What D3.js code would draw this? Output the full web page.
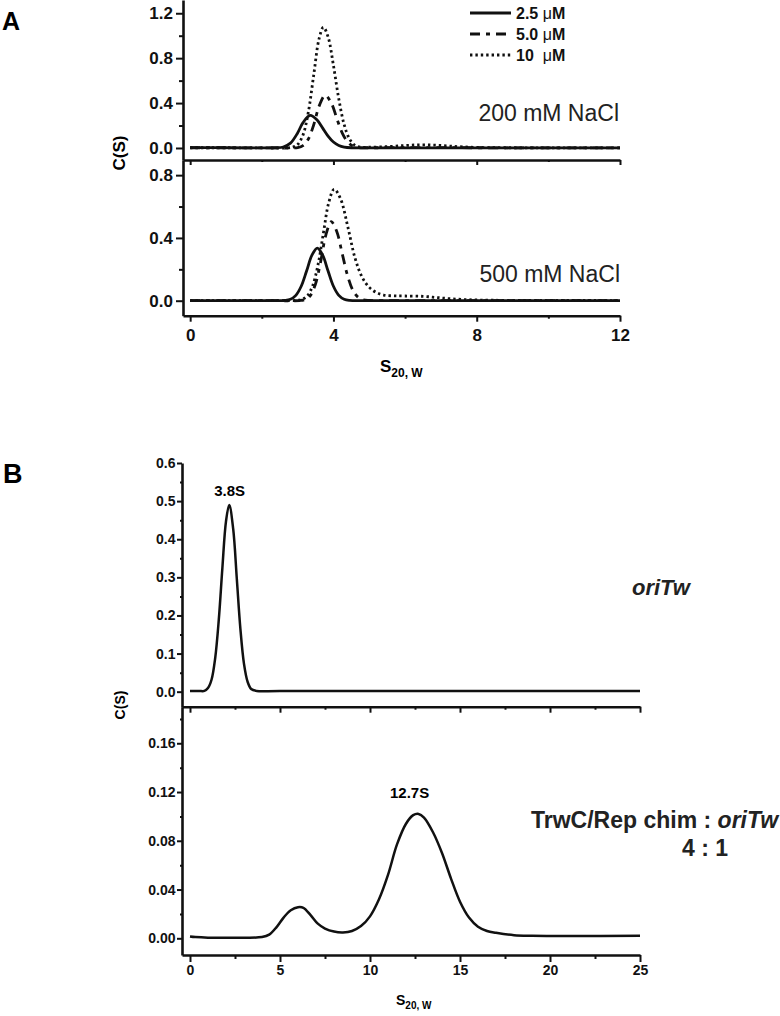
<!DOCTYPE html>
<html>
<head>
<meta charset="UTF-8">
<title>c(s) distributions</title>
<script src="https://cdn.jsdelivr.net/npm/d3@7"></script>
<style>
  body { margin: 0; background: #ffffff; }
  svg { display: block; font-family: "Liberation Sans", Arial, sans-serif; }
  .ax .domain { stroke: #111; stroke-width: 2.6px; }
  .ax line { stroke: #111; stroke-width: 2px; }
  .ax text { fill: #111; font-weight: bold; }
  .axA text { font-size: 17px; }
  .axB text { font-size: 14px; font-family: "Liberation Sans Narrow", "Liberation Sans", Arial, sans-serif; }
  .curve { fill: none; stroke: #111; stroke-linejoin: round; }
</style>
</head>
<body>
<svg id="chart" width="780" height="1016"></svg>
<script>
// ---- panel A : 200 mM NaCl, [s, c(s)]
var a200_25 = [[0,0.004],[0.6,0.003],[1.2,0.002],[2,0.001],[2.4,0.002],[2.6,0.009],[2.8,0.043],[3.0,0.134],[3.15,0.226],[3.35,0.29],[3.55,0.247],[3.7,0.177],[3.85,0.106],[4.0,0.053],[4.15,0.022],[4.3,0.008],[4.5,0.002],[5,0.001],[12,0.001]];
var a200_50 = [[0,0.002],[1,0.002],[2,0.001],[2.9,0.001],[3.0,0.004],[3.15,0.022],[3.3,0.08],[3.45,0.207],[3.6,0.373],[3.77,0.47],[3.95,0.393],[4.1,0.257],[4.25,0.131],[4.4,0.052],[4.55,0.016],[4.7,0.004],[5,0.002],[6,0.004],[7,0.003],[8,0.002],[12,0.001]];
var a200_10 = [[0,0.002],[1,0.002],[2,0.001],[2.85,0.006],[3.0,0.031],[3.15,0.116],[3.3,0.321],[3.45,0.652],[3.6,0.974],[3.72,1.075],[3.85,0.99],[4.0,0.735],[4.15,0.436],[4.3,0.208],[4.45,0.08],[4.6,0.024],[4.75,0.008],[5.0,0.007],[5.5,0.012],[6.0,0.022],[6.4,0.028],[6.8,0.026],[7.2,0.018],[7.6,0.01],[8.2,0.004],[9,0.002],[12,0.001]];
// ---- panel A : 500 mM NaCl
var a500_25 = [[0,0.001],[1,0.001],[2,0.001],[2.65,0.002],[2.8,0.009],[2.95,0.034],[3.1,0.092],[3.25,0.189],[3.4,0.29],[3.55,0.335],[3.7,0.29],[3.85,0.189],[4.0,0.092],[4.15,0.034],[4.3,0.009],[4.45,0.002],[5,0.001],[12,0.001]];
var a500_50 = [[0,0.001],[1,0.001],[2,0.001],[3.05,0.001],[3.19,0.006],[3.34,0.028],[3.49,0.1],[3.64,0.245],[3.79,0.42],[3.94,0.503],[4.09,0.443],[4.24,0.305],[4.39,0.163],[4.54,0.068],[4.69,0.022],[4.84,0.006],[5.0,0.002],[6,0.001],[12,0.001]];
var a500_10 = [[0,0.001],[1,0.001],[2,0.001],[2.97,0.002],[3.12,0.008],[3.27,0.031],[3.42,0.096],[3.57,0.23],[3.72,0.431],[3.87,0.626],[4.02,0.71],[4.2,0.648],[4.4,0.472],[4.6,0.274],[4.8,0.15],[5.0,0.085],[5.2,0.052],[5.4,0.036],[5.7,0.031],[6.0,0.03],[6.5,0.028],[6.9,0.02],[7.3,0.012],[7.8,0.006],[8.5,0.003],[9.5,0.002],[12,0.001]];
// ---- panel B : oriTw alone, and TrwC/Rep chim : oriTw 4:1
var bOri = [[0,0.002],[0.5,0.002],[0.8,0.002],[1.0,0.0095],[1.2,0.032],[1.4,0.088],[1.6,0.189],[1.8,0.325],[2.0,0.447],[2.18,0.49],[2.4,0.427],[2.6,0.297],[2.8,0.165],[3.0,0.073],[3.2,0.026],[3.4,0.007],[3.7,0.002],[5,0.002],[25,0.002]];
var bMix = [[0,0.0015],[0.3,0.001],[1,0.0005],[2,0.0005],[3,0.0005],[4,0.001],[4.4,0.003],[4.8,0.009],[5.2,0.017],[5.6,0.023],[6.0,0.0255],[6.3,0.025],[6.7,0.019],[7.1,0.012],[7.5,0.008],[8.0,0.0055],[8.5,0.0048],[9.0,0.006],[9.5,0.01],[10.0,0.018],[10.5,0.032],[11.0,0.052],[11.5,0.077],[12.0,0.094],[12.4,0.101],[12.7,0.102],[13.0,0.099],[13.5,0.087],[14.0,0.07],[14.5,0.049],[15.0,0.03],[15.5,0.017],[16.0,0.0095],[16.5,0.006],[17.0,0.0045],[18.0,0.0025],[19,0.002],[25,0.002]];

var legendLabels = ["2.5 ", "5.0 ", "10  "];
var dashes = [null, "10,6,4,6", "2.4,3"];

var xTicksA = [0, 4, 8, 12], xMinorA = [2, 6, 10];
var yTicksA1 = [0, 0.4, 0.8, 1.2], yMinorA1 = [0.2, 0.6, 1.0];
var yTicksA2 = [0, 0.4, 0.8], yMinorA2 = [0.2, 0.6];
var xTicksB = [0, 5, 10, 15, 20, 25], xMinorB = [2.5, 7.5, 12.5, 17.5, 22.5];
var yTicksB1 = [0, 0.1, 0.2, 0.3, 0.4, 0.5, 0.6], yMinorB1 = [0.05, 0.15, 0.25, 0.35, 0.45, 0.55];
var yTicksB2 = [0, 0.04, 0.08, 0.12, 0.16], yMinorB2 = [0.02, 0.06, 0.1, 0.14, 0.18];

var svg = d3.select("#chart");
svg.append("rect").attr("width", 780).attr("height", 1016).attr("fill", "#fff");

var xA = d3.scaleLinear().domain([-0.2, 12]).range([183, 620]);
var yA1 = d3.scaleLinear().domain([-0.107, 1.318]).range([160, 0]);
var yA2 = d3.scaleLinear().domain([-0.0955, 0.8965]).range([315.7, 160]);
var xB = d3.scaleLinear().domain([-0.444, 25]).range([182, 640]);
var yB1 = d3.scaleLinear().domain([-0.0394, 0.6]).range([706.7, 463]);
var yB2 = d3.scaleLinear().domain([-0.0137, 0.19]).range([955, 706.7]);

function leftAxis(cls, y, x, major, minor, fmt, size, pad) {
    var g = svg.append("g").attr("class", "ax " + cls).attr("transform", "translate(" + x + ",0)");
    g.append("g").call(d3.axisLeft(y).tickValues(minor).tickSize(size - 3).tickFormat("").tickSizeOuter(0))
        .select(".domain").remove();
    g.append("g").call(d3.axisLeft(y).tickValues(major).tickSize(size).tickPadding(pad)
        .tickFormat(d3.format(fmt)).tickSizeOuter(0));
}

function bottomAxis(cls, x, y, major, minor, size, pad, labels) {
    var g = svg.append("g").attr("class", "ax " + cls).attr("transform", "translate(0," + y + ")");
    g.append("g").call(d3.axisBottom(x).tickValues(minor).tickSize(size - 3).tickFormat("").tickSizeOuter(0))
        .select(".domain").remove();
    g.append("g").call(d3.axisBottom(x).tickValues(major).tickSize(size).tickPadding(pad)
        .tickFormat(labels ? d3.format("d") : "").tickSizeOuter(0));
}

function curve(data, x, y, dash, w) {
    svg.append("path").datum(data).attr("class", "curve")
        .attr("stroke-width", w)
        .attr("stroke-dasharray", dash)
        .attr("d", d3.line().x(function(d) { return x(d[0]); }).y(function(d) { return y(d[1]); })
            .curve(d3.curveCatmullRom.alpha(0.5)));
}

// ---------- panel A
leftAxis("axA", yA1, 183, yTicksA1, yMinorA1, ".1f", 7, 3);
leftAxis("axA", yA2, 183, yTicksA2, yMinorA2, ".1f", 7, 3);
bottomAxis("axA", xA, 160, xTicksA, xMinorA, 5, 3, false);
bottomAxis("axA", xA, 315.7, xTicksA, xMinorA, 6, 7, true);

[a200_25, a200_50, a200_10].forEach(function(s, i) { curve(s, xA, yA1, dashes[i], 2.8); });
[a500_25, a500_50, a500_10].forEach(function(s, i) { curve(s, xA, yA2, dashes[i], 2.8); });

// legend
var leg = svg.append("g").attr("font-size", 16).attr("font-weight", "bold").attr("fill", "#111");
legendLabels.forEach(function(lab, i) {
    var cy = 13 + i * 21;
    leg.append("line").attr("x1", 470).attr("x2", 511).attr("y1", cy).attr("y2", cy)
        .attr("stroke", "#111").attr("stroke-width", 3).attr("stroke-dasharray", dashes[i]);
    var t = leg.append("text").attr("x", 516).attr("y", cy + 5.5).attr("xml:space", "preserve");
    t.append("tspan").text(lab);
    t.append("tspan").attr("font-weight", "normal").text("\u03bc");
    t.append("tspan").text("M");
});

svg.append("text").attr("x", 2).attr("y", 30).attr("font-size", 25).attr("font-weight", "bold").text("A");
svg.append("text").attr("x", 619).attr("y", 121).attr("text-anchor", "end").attr("font-size", 23)
    .attr("fill", "#222").text("200 mM NaCl");
svg.append("text").attr("x", 620).attr("y", 281.5).attr("text-anchor", "end").attr("font-size", 23)
    .attr("fill", "#222").text("500 mM NaCl");
svg.append("text").attr("transform", "translate(125,153) rotate(-90)").attr("text-anchor", "middle")
    .attr("font-size", 17).attr("font-weight", "bold").text("C(S)");
var sA = svg.append("text").attr("x", 380).attr("y", 372).attr("font-weight", "bold").attr("font-size", 17);
sA.append("tspan").text("S");
sA.append("tspan").attr("dy", 5).attr("font-size", 12).text("20, W");

// ---------- panel B
var narrow = "'Liberation Sans Narrow', 'Liberation Sans', Arial, sans-serif";
leftAxis("axB", yB1, 182, yTicksB1, yMinorB1, ".1f", 5, 1.5);
leftAxis("axB", yB2, 182, yTicksB2, yMinorB2, ".2f", 5, 1.5);
bottomAxis("axB", xB, 706.7, xTicksB, xMinorB, 6, 3, false);
bottomAxis("axB", xB, 955, xTicksB, xMinorB, 7, 3, true);

curve(bOri, xB, yB1, null, 2.5);
curve(bMix, xB, yB2, null, 2.5);

svg.append("text").attr("x", 3).attr("y", 483).attr("font-size", 27).attr("font-weight", "bold").text("B");
svg.append("text").attr("x", xB(2.2)).attr("y", 496).attr("text-anchor", "middle").attr("font-size", 15)
    .attr("font-weight", "bold").style("font-family", narrow).text("3.8S");
svg.append("text").attr("x", xB(12.2)).attr("y", 798).attr("text-anchor", "middle").attr("font-size", 15)
    .attr("font-weight", "bold").style("font-family", narrow).text("12.7S");
svg.append("text").attr("x", 632).attr("y", 595).attr("font-size", 22).attr("font-weight", "bold")
    .attr("font-style", "italic").attr("fill", "#222").text("oriTw");
var tw = svg.append("text").attr("x", 531).attr("y", 828).attr("font-size", 23).attr("font-weight", "bold")
    .attr("fill", "#222");
tw.append("tspan").text("TrwC/Rep chim : ");
tw.append("tspan").attr("font-style", "italic").text("oriTw");
svg.append("text").attr("x", 705).attr("y", 856).attr("text-anchor", "middle").attr("font-size", 23)
    .attr("font-weight", "bold").attr("fill", "#222").text("4 : 1");
svg.append("text").attr("transform", "translate(125,705) rotate(-90)").attr("text-anchor", "middle")
    .attr("font-size", 14).attr("font-weight", "bold").style("font-family", narrow).text("C(S)");
var sB = svg.append("text").attr("x", 396).attr("y", 1005).attr("font-weight", "bold").attr("font-size", 14)
    .style("font-family", narrow);
sB.append("tspan").text("S");
sB.append("tspan").attr("dy", 4).attr("font-size", 10).text("20, W");
</script>
</body>
</html>
